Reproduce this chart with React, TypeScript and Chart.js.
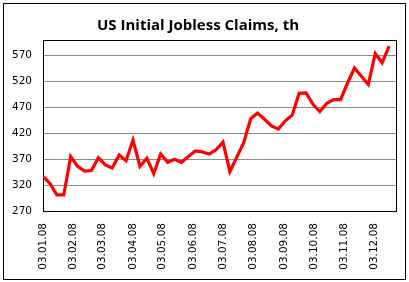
import React, { useEffect, useRef } from "react";
import { Chart, registerables } from "chart.js";

Chart.register(...registerables);

const titleText = "US Initial Jobless Claims, th";

const weekDates = [
  "2008-01-03", "2008-01-10", "2008-01-17", "2008-01-24", "2008-01-31",
  "2008-02-07", "2008-02-14", "2008-02-21", "2008-02-28",
  "2008-03-06", "2008-03-13", "2008-03-20", "2008-03-27",
  "2008-04-03", "2008-04-10", "2008-04-17", "2008-04-24",
  "2008-05-01", "2008-05-08", "2008-05-15", "2008-05-22", "2008-05-29",
  "2008-06-05", "2008-06-12", "2008-06-19", "2008-06-26",
  "2008-07-03", "2008-07-10", "2008-07-17", "2008-07-24", "2008-07-31",
  "2008-08-07", "2008-08-14", "2008-08-21", "2008-08-28",
  "2008-09-04", "2008-09-11", "2008-09-18", "2008-09-25",
  "2008-10-02", "2008-10-09", "2008-10-16", "2008-10-23", "2008-10-30",
  "2008-11-06", "2008-11-13", "2008-11-20", "2008-11-27",
  "2008-12-04", "2008-12-11", "2008-12-18",
];

const claims = [
  337, 323, 301, 301, 375,
  356, 347, 348, 373,
  359, 353, 378, 367,
  407, 356, 372, 342,
  380, 364, 370, 364, 375,
  386, 384, 380, 388,
  403, 346, 374, 402, 448,
  459, 447, 434, 428,
  444, 455, 497, 498,
  476, 462, 478, 485, 485,
  517, 546, 530, 514,
  574, 556, 588,
];

const tickDates = [
  "2008-01-03", "2008-02-03", "2008-03-03", "2008-04-03", "2008-05-03", "2008-06-03",
  "2008-07-03", "2008-08-03", "2008-09-03", "2008-10-03", "2008-11-03", "2008-12-03",
];
const tickLabels = [
  "03.01.08", "03.02.08", "03.03.08", "03.04.08", "03.05.08", "03.06.08",
  "03.07.08", "03.08.08", "03.09.08", "03.10.08", "03.11.08", "03.12.08",
];

const yTicks = [270, 320, 370, 420, 470, 520, 570];
const yMin = 270;
const yMax = 600;
const xStartDate = "2008-01-03";
const xEndDate = "2008-12-25";

function dayOf(d: string): number {
  const [y, m, dd] = d.split("-").map(Number);
  const [y0, m0, d0] = xStartDate.split("-").map(Number);
  return (Date.UTC(y, m - 1, dd) - Date.UTC(y0, m0 - 1, d0)) / 86400000;
}

const W = 409;
const H = 282;

export default function App() {
  const ref = useRef<HTMLCanvasElement | null>(null);

  useEffect(() => {
    if (!ref.current) return;
    const framePlugin = {
      id: "frame",
      beforeDraw(chart: any) {
        const ctx = chart.ctx;
        ctx.save();
        ctx.fillStyle = "#ffffff";
        ctx.fillRect(0, 0, chart.width, chart.height);
        ctx.restore();
      },
      beforeDatasetsDraw(chart: any) {
        const { ctx, chartArea } = chart;
        ctx.save();
        ctx.strokeStyle = "#000000";
        ctx.lineWidth = 1;
        ctx.strokeRect(
          Math.round(chartArea.left) + 0.5,
          Math.round(chartArea.top) + 0.5,
          Math.round(chartArea.right - chartArea.left),
          Math.round(chartArea.bottom - chartArea.top)
        );
        ctx.restore();
      },
      afterDraw(chart: any) {
        const ctx = chart.ctx;
        ctx.save();
        ctx.strokeStyle = "#000000";
        ctx.lineWidth = 1;
        ctx.strokeRect(3.5, 3.5, 402, 276);
        ctx.restore();
      },
    };

    const chart = new Chart(ref.current, {
      type: "line",
      data: {
        datasets: [
          {
            data: weekDates.map((d, i) => ({ x: dayOf(d), y: claims[i] })),
            borderColor: "#ff0000",
            borderWidth: 3.2,
            pointRadius: 0,
            fill: false,
            tension: 0,
          },
        ],
      },
      options: {
        responsive: false,
        animation: false,
        devicePixelRatio: 1,
        layout: { padding: { left: 0, right: 13, top: 0, bottom: 0 } },
        plugins: {
          legend: { display: false },
          tooltip: { enabled: false },
          title: {
            display: true,
            text: titleText,
            color: "#000000",
            font: { family: "Open Sans", size: 15, weight: "bold", lineHeight: 1.2 },
            padding: { top: 17, bottom: 5 },
          },
        },
        scales: {
          x: {
            type: "linear",
            min: dayOf(xStartDate),
            max: dayOf(xEndDate),
            afterBuildTicks(scale: any) {
              scale.ticks = tickDates.map((d) => ({ value: dayOf(d) }));
            },
            afterFit(scale: any) {
              scale.height = 71;
            },
            grid: { display: false, drawTicks: false },
            border: { display: false },
            ticks: {
              autoSkip: false,
              minRotation: 90,
              maxRotation: 90,
              padding: 12,
              color: "#000000",
              font: { family: "DejaVu Sans", size: 10.5 },
              callback: (_v: any, i: number) => tickLabels[i],
            },
          },
          y: {
            min: yMin,
            max: yMax,
            afterBuildTicks(scale: any) {
              scale.ticks = yTicks.map((v) => ({ value: v }));
            },
            afterFit(scale: any) {
              scale.width = 43;
            },
            grid: { color: "#8c8c8c", lineWidth: 1, drawTicks: false },
            border: { display: false },
            ticks: {
              padding: 11,
              color: "#000000",
              font: { family: "DejaVu Sans", size: 10.5 },
            },
          },
        },
      },
      plugins: [framePlugin],
    });
    return () => chart.destroy();
  }, []);

  return (
    <div style={{ position: "absolute", left: 0, top: 0, width: W, height: H }}>
      <canvas ref={ref} width={W} height={H} style={{ width: W, height: H, display: "block" }} />
    </div>
  );
}
